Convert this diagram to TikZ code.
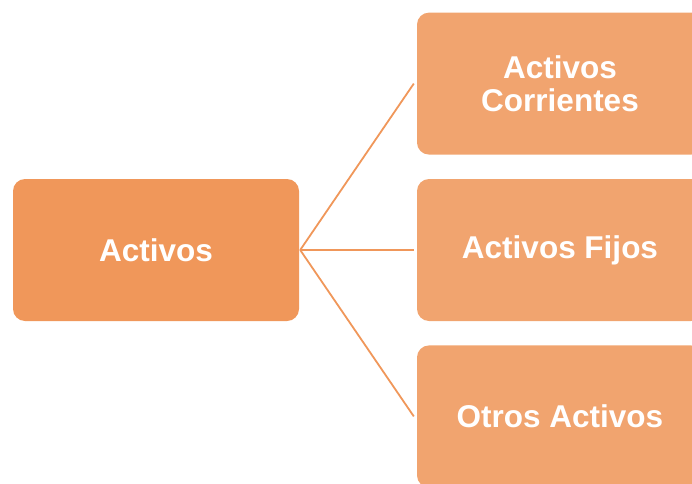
\documentclass[tikz,border=0pt]{standalone}
\usepackage{fontspec}
\setmainfont{Liberation Sans}
\usepackage{xcolor}
\usetikzlibrary{positioning}
\definecolor{mainorange}{HTML}{F0975A}
\definecolor{suborange}{HTML}{F1A46F}
\tikzset{
  mainbox/.style={fill=mainorange, rounded corners=12pt, minimum width=286pt, minimum height=142pt,
    text=white, font=\bfseries\fontsize{31.5}{33}\selectfont, align=center, inner sep=0pt},
  subbox/.style={mainbox, fill=suborange},
  branch/.style={draw=mainorange, line width=1.8pt}
}

\begin{document}
\begin{tikzpicture}[x=1pt,y=1pt]
			\useasboundingbox (0,0) rectangle (692,483);
			\clip (0,0) rectangle (692,483);
			% draw boxes
			\node[mainbox] (activos) at (156,233) {Activos};
			\node[subbox] (fijos) at (560,233) {Activos Fijos};
			\node[subbox, above=24pt of fijos] (corrientes) {Activos\\Corrientes};
			\node[subbox, below=24pt of fijos] (otros) {Otros Activos};
			% draw branches
			\coordinate (root) at ([xshift=1pt]activos.east);
			\draw[branch] (root) -- ([xshift=-3pt]corrientes.west);
			\draw[branch] (root) -- ([xshift=-3pt]fijos.west);
			\draw[branch] (root) -- ([xshift=-3pt]otros.west);
		\end{tikzpicture}
\end{document}
